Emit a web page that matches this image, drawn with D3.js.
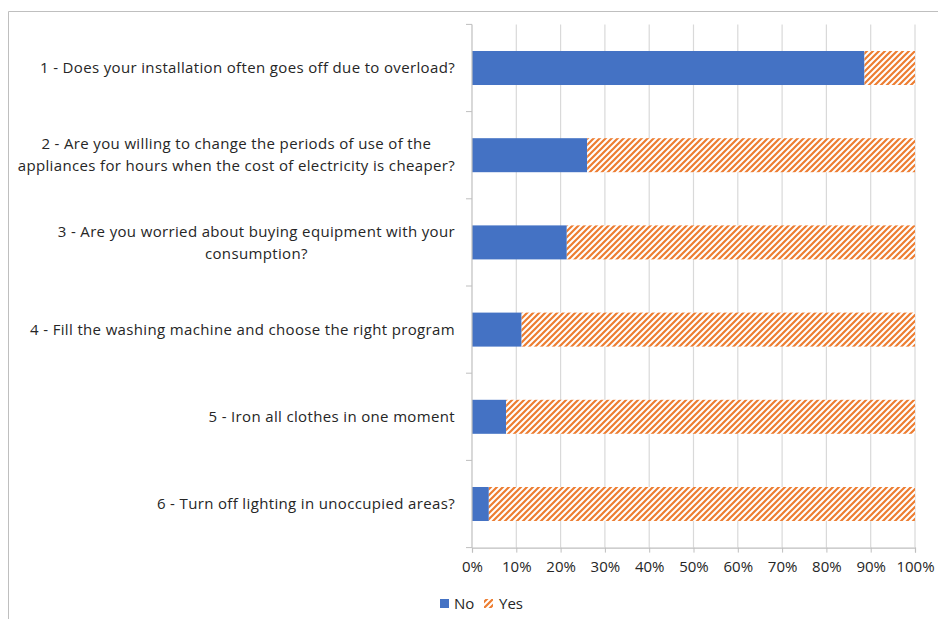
<!DOCTYPE html>
<html>
<head>
<meta charset="utf-8">
<script src="https://cdn.jsdelivr.net/npm/d3@7"></script>
<style>
  html, body { margin: 0; padding: 0; background: #fff; }
  svg { display: block; }
  text { font-family: "Open Sans", Lato, sans-serif; fill: #262626; }
</style>
</head>
<body>
<svg id="chart" width="938" height="619"></svg>
<script>
// ---- data ----
const categories = [
  ["1 - Does your installation often goes off due to overload?"],
  ["2 - Are you willing to change the periods of use of the", "appliances for hours when the cost of electricity is cheaper?"],
  ["3 - Are you worried about buying equipment with your", "consumption?"],
  ["4 - Fill the washing machine and choose the right program"],
  ["5 - Iron all clothes in one moment"],
  ["6 - Turn off lighting in unoccupied areas?"]
];
const noValues  = [88.6, 26.0, 21.4, 11.2, 7.7, 3.8];
const yesValues = [11.4, 74.0, 78.6, 88.8, 92.3, 96.2];
const seriesNames = ["No", "Yes"];
const xTicks = [0, 10, 20, 30, 40, 50, 60, 70, 80, 90, 100];

(function () {
// ---- layout ----
const svg = d3.select("#chart");
const pLeft = 472, pRight = 915, pTop = 24.4, pBottom = 547.6;
const blue = "#4472C4", orange = "#ED7D31";

// frame
svg.append("path")
  .attr("d", "M8.5,640 V11.5 H950")
  .attr("fill", "none").attr("stroke", "#bfbfbf").attr("stroke-width", 1);

// pattern (wide upward diagonal)
const P = 6;
const defs = svg.append("defs");
const pat = defs.append("pattern")
  .attr("id", "upDiag").attr("patternUnits", "userSpaceOnUse")
  .attr("width", P).attr("height", P);
pat.append("rect").attr("width", P).attr("height", P).attr("fill", "#fff");
pat.append("path")
  .attr("d", `M${-P/4},${P + P/4} L${P + P/4},${-P/4} M${-P/4},${P/4} L${P/4},${-P/4} M${P - P/4},${P + P/4} L${P + P/4},${P - P/4}`)
  .attr("stroke", orange).attr("stroke-width", 2.2);

const idx = d3.range(categories.length);
const x = d3.scaleLinear().domain([0, 100]).range([pLeft, pRight]);
const y = d3.scaleBand().domain(idx).range([pTop, pBottom])
  .paddingInner(0.61).paddingOuter(0.305);

// gridlines
svg.append("g").selectAll("line").data(xTicks.slice(1)).join("line")
  .attr("x1", d => x(d)).attr("x2", d => x(d))
  .attr("y1", pTop).attr("y2", pBottom)
  .attr("stroke", "#d9d9d9").attr("stroke-width", 1.2);

// stacked bars
const rows = idx.map(i => ({ i, No: noValues[i], Yes: yesValues[i] }));
const stack = d3.stack().keys(seriesNames)(rows);
const fills = { No: blue, Yes: "url(#upDiag)" };
svg.append("g").selectAll("g").data(stack).join("g")
  .attr("fill", s => fills[s.key])
  .selectAll("rect").data(s => s).join("rect")
  .attr("x", d => x(d[0]))
  .attr("width", d => x(d[1]) - x(d[0]))
  .attr("y", d => y(d.data.i))
  .attr("height", y.bandwidth());

// y axis line and ticks (band boundaries)
const axisColor = "#bfbfbf";
svg.append("line").attr("x1", pLeft).attr("x2", pLeft).attr("y1", pTop).attr("y2", pBottom)
  .attr("stroke", axisColor).attr("stroke-width", 1.2);
const step = y.step();
svg.append("g").selectAll("line").data(d3.range(categories.length + 1)).join("line")
  .attr("x1", pLeft - 6).attr("x2", pLeft)
  .attr("y1", d => pTop + d * step).attr("y2", d => pTop + d * step)
  .attr("stroke", axisColor).attr("stroke-width", 1);

// x axis
const xAxis = d3.axisBottom(x).tickValues(xTicks).tickFormat(d => d + "%").tickSize(5).tickPadding(9);
const gx = svg.append("g").attr("transform", `translate(0,${pBottom})`).call(xAxis);
gx.select(".domain").attr("stroke", axisColor).attr("stroke-width", 1.2);
gx.selectAll(".tick line").attr("stroke", axisColor);
gx.selectAll(".tick text").style("font-family", "'Open Sans', sans-serif").style("font-size", "15px").attr("fill", "#262626");

// category labels
const labelRight = 455;
const lg = svg.append("g");
categories.forEach((lines, i) => {
  const cy = y(i) + y.bandwidth() / 2;
  const lh = 22;
  const t = lg.append("text").style("font-size", "15px").style("letter-spacing", "0.35px");
  const n = lines.length;
  lines.forEach((ln, k) => {
    t.append("tspan").text(ln)
      .attr("y", cy + (k - (n - 1) / 2) * lh)
      .attr("dy", "0.35em");
  });
  const tsp = t.selectAll("tspan").nodes();
  const widths = tsp.map(s => s.getComputedTextLength());
  const maxW = d3.max(widths);
  const centerX = labelRight - maxW / 2;
  t.attr("text-anchor", "middle");
  t.selectAll("tspan").attr("x", centerX);
});

// legend
const legend = svg.append("g");
legend.append("rect").attr("x", 440).attr("y", 599).attr("width", 9).attr("height", 9).attr("fill", blue);
legend.append("text").attr("x", 454).attr("y", 604).attr("dy", "0.35em").style("font-size", "15px").text(seriesNames[0]);
legend.append("rect").attr("x", 484).attr("y", 599).attr("width", 9).attr("height", 9).attr("fill", "url(#upDiag)");
legend.append("text").attr("x", 499).attr("y", 604).attr("dy", "0.35em").style("font-size", "15px").text(seriesNames[1]);
})();
</script>
</body>
</html>
